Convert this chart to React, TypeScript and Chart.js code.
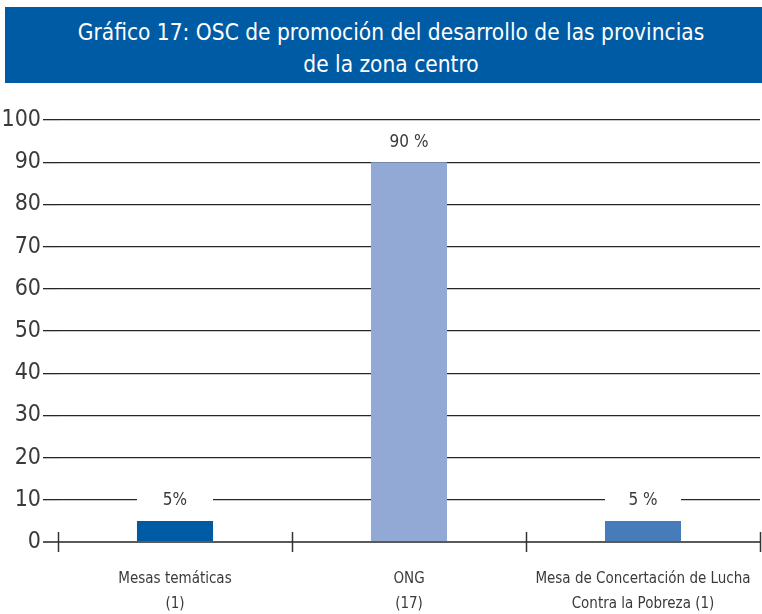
import React, { useEffect, useRef } from "react";
import { Chart, registerables } from "chart.js";

Chart.register(...registerables);

const titleLines = [
  "Gráfico 17: OSC de promoción del desarrollo de las provincias",
  "de la zona centro",
];
const categories = [
  ["Mesas temáticas", "(1)"],
  ["ONG", "(17)"],
  ["Mesa de Concertación de Lucha", "Contra la Pobreza (1)"],
];
const values = [5, 90, 5];
const valueLabels = ["5%", "90 %", "5 %"];
const barColors = ["#005BA5", "#91A9D4", "#477CBA"];
const yTicks = [0, 10, 20, 30, 40, 50, 60, 70, 80, 90, 100];

const FONT = '"Liberation Sans Narrow", "DejaVu Sans Condensed", "Roboto", sans-serif';

const valueLabelPlugin = {
  id: "valueLabels",
  afterDatasetsDraw(chart: any) {
    const ctx = chart.ctx;
    const meta = chart.getDatasetMeta(0);
    ctx.save();
    meta.data.forEach((bar: any, i: number) => {
      const w = bar.width;
      const cy = bar.y - 20;
      ctx.fillStyle = "#ffffff";
      ctx.fillRect(bar.x - w / 2, cy - 9, w, 18);
      ctx.fillStyle = "#3a3a3a";
      ctx.font = `17px ${FONT}`;
      ctx.textAlign = "center";
      ctx.textBaseline = "middle";
      ctx.fillText(valueLabels[i], bar.x, cy);
    });
    ctx.restore();
  },
};

const xTickPlugin = {
  id: "xTickMarks",
  afterDraw(chart: any) {
    const xs = chart.scales.x;
    const ys = chart.scales.y;
    const ctx = chart.ctx;
    const n = categories.length;
    const step = (xs.right - xs.left) / n;
    const y0 = ys.getPixelForValue(0);
    ctx.save();
    ctx.strokeStyle = "#333333";
    ctx.lineWidth = 1.5;
    for (let i = 0; i <= n; i++) {
      const x = Math.round(xs.left + i * step) + 0.5;
      ctx.beginPath();
      ctx.moveTo(x, y0 - 10);
      ctx.lineTo(x, y0 + 10);
      ctx.stroke();
    }
    ctx.restore();
  },
};

export default function App() {
  const canvasRef = useRef<HTMLCanvasElement | null>(null);

  useEffect(() => {
    if (!canvasRef.current) return;
    const chart = new Chart(canvasRef.current, {
      type: "bar",
      data: {
        labels: categories,
        datasets: [
          {
            data: values,
            backgroundColor: barColors,
            borderWidth: 0,
            categoryPercentage: 1,
            barPercentage: 0.325,
          },
        ],
      },
      options: {
        animation: false,
        responsive: false,
        maintainAspectRatio: false,
        layout: { padding: { top: 120, right: 2, bottom: 0, left: 0 } },
        plugins: {
          legend: { display: false },
          tooltip: { enabled: false },
          title: { display: false },
        },
        scales: {
          x: {
            grid: { display: false, drawTicks: false },
            border: { display: false },
            ticks: {
              color: "#3a3a3a",
              font: { family: FONT, size: 15, lineHeight: 1.65 },
              padding: 25,
              maxRotation: 0,
              autoSkip: false,
            },
            afterFit(scale: any) {
              scale.height = 72;
              scale.paddingLeft = 0;
              scale.paddingRight = 0;
            },
          },
          y: {
            min: 0,
            max: 100,
            afterBuildTicks(scale: any) {
              scale.ticks = yTicks.map((v) => ({ value: v }));
            },
            grid: {
              color: (c: any) => (c.tick && c.tick.value === 0 ? "#5a5a5a" : "#262626"),
              lineWidth: (c: any) => (c.tick && c.tick.value === 0 ? 2 : 1.3),
              tickLength: 15,
              drawTicks: true,
            },
            border: { display: false },
            ticks: {
              color: "#3a3a3a",
              font: { family: FONT, size: 23 },
              padding: 2,
            },
            afterFit(scale: any) {
              scale.width = 58;
            },
          },
        },
      },
      plugins: [valueLabelPlugin, xTickPlugin],
    });
    return () => chart.destroy();
  }, []);

  return (
    <div style={{ position: "fixed", left: 0, top: 0, width: 762, height: 614, background: "#ffffff" }}>
      <canvas
        ref={canvasRef}
        width={762}
        height={614}
        style={{ position: "absolute", left: 0, top: 0, width: 762, height: 614 }}
      />
      <div
        style={{
          position: "absolute",
          left: 5,
          top: 7,
          width: 757,
          height: 76,
          boxSizing: "border-box",
          background: "#005BA5",
          color: "#ffffff",
          fontFamily: FONT,
          fontSize: 22.5,
          lineHeight: "32px",
          textAlign: "center",
          paddingTop: 9,
          paddingLeft: 15,
        }}
      >
        {titleLines.map((t, i) => (
          <div key={i}>{t}</div>
        ))}
      </div>
    </div>
  );
}
